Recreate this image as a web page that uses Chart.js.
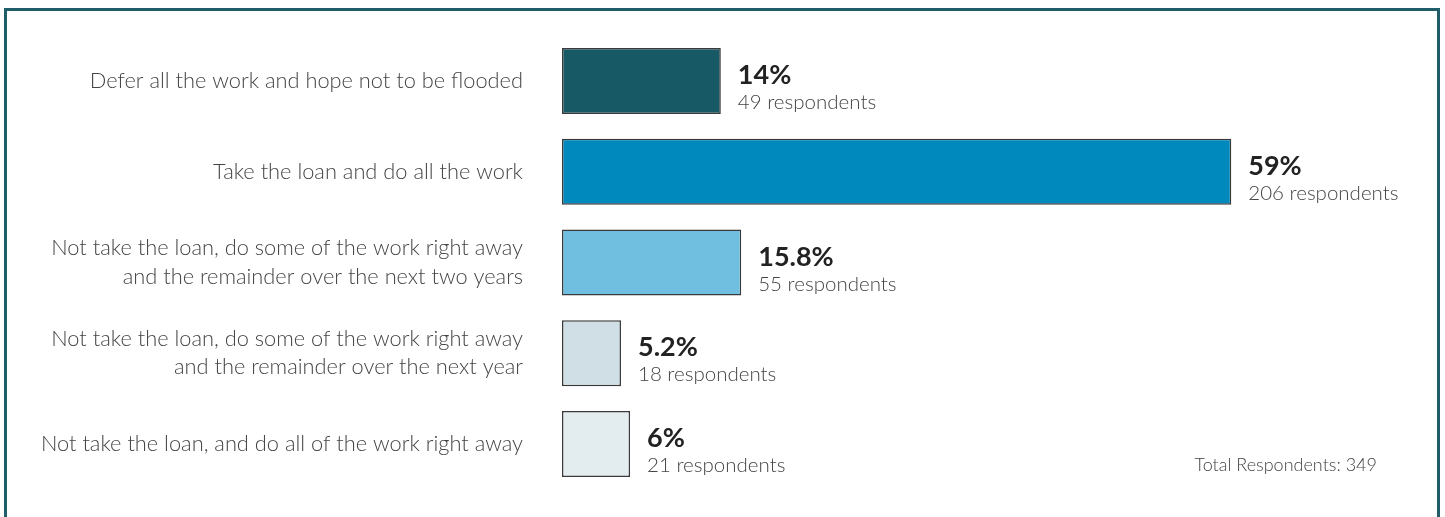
<!DOCTYPE html>
<html>
<head>
<meta charset="utf-8">
<script src="https://cdn.jsdelivr.net/npm/chart.js@4"></script>
<style>
  html, body { margin: 0; padding: 0; background: #fff; }
  #wrap { position: relative; width: 1445px; height: 517px; overflow: hidden; }
  #frame {
    position: absolute; left: 4px; top: 8px; width: 1430px; height: 600px;
    border: 3px solid #1f5d69; pointer-events: none;
  }
  #total {
    position: absolute; right: 68px; top: 453px;
    font-family: Lato, sans-serif; font-weight: 300; font-size: 18px; color: #444;
  }
</style>
</head>
<body>
<div id="wrap">
  <canvas id="chart" width="1445" height="517"></canvas>
  <div id="frame"></div>
  <div id="total">Total Respondents: 349</div>
</div>
<script>
const categories = [
  'Defer all the work and hope not to be flooded',
  'Take the loan and do all the work',
  ['Not take the loan, do some of the work right away', 'and the remainder over the next two years'],
  ['Not take the loan, do some of the work right away', 'and the remainder over the next year'],
  'Not take the loan, and do all of the work right away'
];
const percents = [14, 59, 15.8, 5.2, 6];
const respondents = [49, 206, 55, 18, 21];
const barColors = ['#175965', '#0089bd', '#70bfe0', '#d0dee5', '#e3ecef'];

// draws "14%" + "49 respondents" next to each bar
const valueLabels = {
  id: 'valueLabels',
  afterDatasetsDraw(chart) {
    const ctx = chart.ctx;
    const meta = chart.getDatasetMeta(0);
    ctx.save();
    ctx.textAlign = 'left';
    ctx.textBaseline = 'alphabetic';
    meta.data.forEach((bar, i) => {
      const x = bar.x + 17;
      ctx.fillStyle = '#222';
      ctx.font = 'bold 27px Lato, sans-serif';
      ctx.fillText(percents[i] + '%', x, bar.y + 3);
      ctx.fillStyle = '#444';
      ctx.font = '300 20.5px Lato, sans-serif';
      ctx.fillText(respondents[i] + ' respondents', x, bar.y + 28);
    });
    ctx.restore();
  }
};

new Chart(document.getElementById('chart').getContext('2d'), {
  type: 'bar',
  data: {
    labels: categories,
    datasets: [{
      data: percents,
      backgroundColor: barColors,
      borderColor: '#3a3a3a',
      borderWidth: 1.5,
      borderSkipped: false,
      categoryPercentage: 1,
      barPercentage: 0.727
    }]
  },
  options: {
    indexAxis: 'y',
    responsive: false,
    animation: false,
    layout: { padding: { top: 35.6, bottom: 27.6, left: 0, right: 5 } },
    plugins: {
      legend: { display: false },
      tooltip: { enabled: false }
    },
    scales: {
      x: {
        min: 0,
        max: 77.4,
        display: false
      },
      y: {
        grid: { display: false, drawTicks: false },
        border: { display: false },
        afterFit(scale) {
          scale.width = 562;
          scale.paddingTop = 0;
          scale.paddingBottom = 0;
        },
        ticks: {
          padding: 39,
          color: '#444',
          font: { family: 'Lato, sans-serif', weight: '300', size: 21.8, lineHeight: 1.3 }
        }
      }
    }
  },
  plugins: [valueLabels]
});
</script>
</body>
</html>
